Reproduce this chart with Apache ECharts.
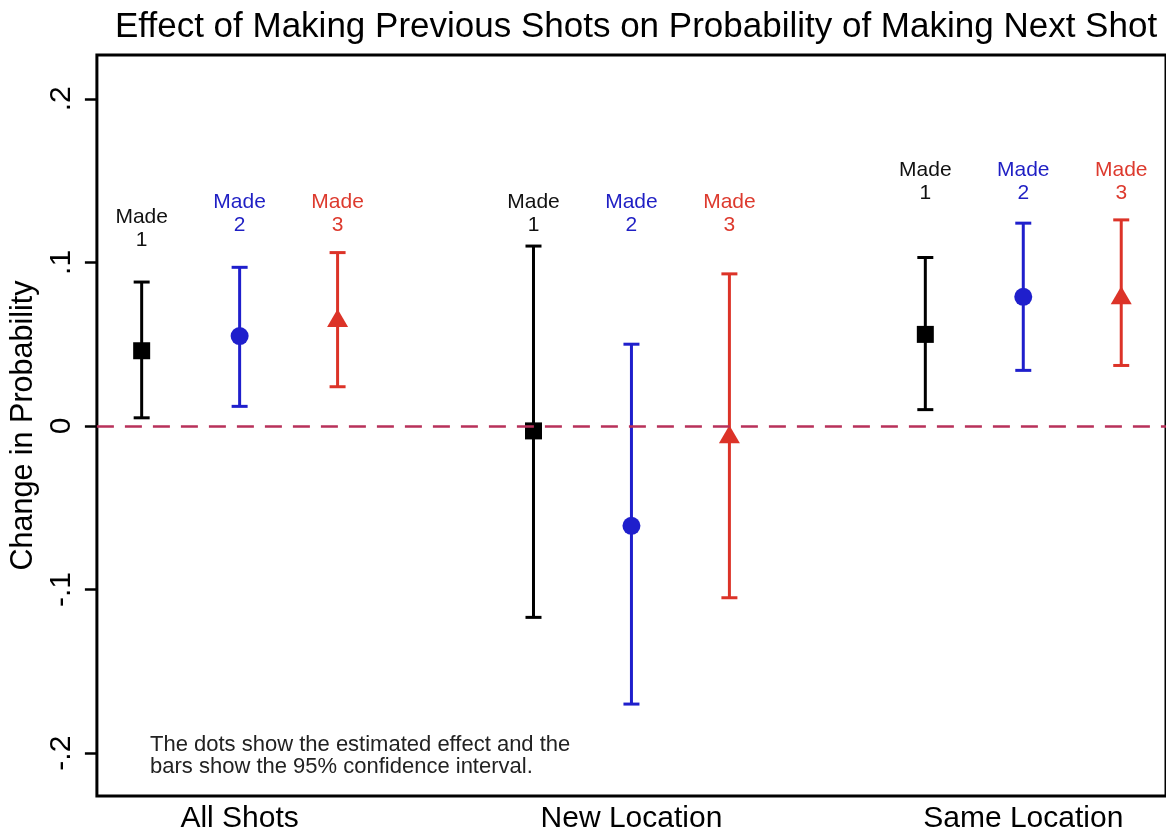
<!DOCTYPE html>
<html>
<head>
<meta charset="utf-8">
<script src="https://cdn.jsdelivr.net/npm/echarts@6/dist/echarts.min.js"></script>
<style>
  html, body { margin: 0; padding: 0; background: #fff; }
  #chart { width: 1166px; height: 834px; }
</style>
</head>
<body>
<div id="chart"></div>
<script>
// ---- Data ----
const groups = ['All Shots', 'New Location', 'Same Location'];
const seriesNames = ['Made 1', 'Made 2', 'Made 3'];
const seriesLabels = ['Made\n1', 'Made\n2', 'Made\n3'];

const made1Est = [0.046, -0.003, 0.056];
const made1Lo  = [0.005, -0.117, 0.010];
const made1Hi  = [0.088,  0.110, 0.103];

const made2Est = [0.055, -0.061, 0.079];
const made2Lo  = [0.012, -0.170, 0.034];
const made2Hi  = [0.097,  0.050, 0.124];

const made3Est = [0.066, -0.005, 0.080];
const made3Lo  = [0.024, -0.105, 0.037];
const made3Hi  = [0.106,  0.093, 0.126];

// annotation anchor heights (data units) for the "Made N" labels
const made1LabelY = [0.1205, 0.1296, 0.1494];
const made2LabelY = [0.1296, 0.1296, 0.1494];
const made3LabelY = [0.1296, 0.1296, 0.1494];

const yTicks = [-0.2, -0.1, 0, 0.1, 0.2];
const yTickLabels = ['-.2', '-.1', '0', '.1', '.2'];

const noteText = 'The dots show the estimated effect and the\nbars show the 95% confidence interval.';
const titleText = 'Effect of Making Previous Shots on Probability of Making Next Shot';

// ---- Build ----
const FONT = 'Liberation Sans, Arial, Helvetica, sans-serif';
const colors = ['#000000', '#1f1fcc', '#dc3328'];
const labelColors = ['#111111', '#1f1fc4', '#dd3a2e'];
const symbols = ['rect', 'circle', 'triangle'];
const symbolSizes = [17, 18, [21, 18]];
const ests = [made1Est, made2Est, made3Est];
const los = [made1Lo, made2Lo, made3Lo];
const his = [made1Hi, made2Hi, made3Hi];
const labYs = [made1LabelY, made2LabelY, made3LabelY];
const GROUP_STEP = 4;
const xOf = (g, k) => g * GROUP_STEP + k;

const series = [];
seriesNames.forEach((name, k) => {
  const col = colors[k];
  series.push({
    name: name + ' CI',
    type: 'custom',
    z: 3,
    data: groups.map((_, g) => [xOf(g, k), los[k][g], his[k][g]]),
    renderItem: function (params, api) {
      const x = api.value(0);
      const pLo = api.coord([x, api.value(1)]);
      const pHi = api.coord([x, api.value(2)]);
      const hw = 8;
      const st = { stroke: col, lineWidth: 3 };
      return {
        type: 'group',
        children: [
          { type: 'line', shape: { x1: pLo[0], y1: pLo[1], x2: pHi[0], y2: pHi[1] }, style: st },
          { type: 'line', shape: { x1: pLo[0] - hw, y1: pLo[1], x2: pLo[0] + hw, y2: pLo[1] }, style: st },
          { type: 'line', shape: { x1: pHi[0] - hw, y1: pHi[1], x2: pHi[0] + hw, y2: pHi[1] }, style: st }
        ]
      };
    }
  });
  series.push({
    name: name,
    type: 'scatter',
    z: 4,
    symbol: symbols[k],
    symbolSize: symbolSizes[k],
    itemStyle: { color: col, opacity: 1 },
    data: groups.map((_, g) => [xOf(g, k), ests[k][g]])
  });
  series.push({
    name: name + ' label',
    type: 'scatter',
    z: 5,
    symbolSize: 0,
    silent: true,
    itemStyle: { color: labelColors[k], opacity: 1 },
    label: {
      show: true,
      position: 'inside',
      formatter: seriesLabels[k],
      fontFamily: FONT,
      fontSize: 21,
      lineHeight: 23,
      color: labelColors[k],
      opacity: 1,
      textBorderWidth: 0
    },
    data: groups.map((_, g) => [xOf(g, k), labYs[k][g]])
  });
});

// zero reference dashed line
series.push({
  name: 'zero',
  type: 'line',
  data: [],
  z: 2,
  markLine: {
    silent: true,
    symbol: ['none', 'none'],
    label: { show: false },
    lineStyle: { color: '#b8315a', width: 2.5, type: [17, 11] },
    data: [{ yAxis: 0 }]
  }
});

const chart = echarts.init(document.getElementById('chart'));
chart.setOption({
  backgroundColor: '#ffffff',
  animation: false,
  title: {
    text: titleText,
    left: 110,
    top: 5,
    textStyle: { fontFamily: FONT, fontSize: 35, fontWeight: 'normal', color: '#000' }
  },
  graphic: [{
    type: 'text',
    left: 150,
    top: 734,
    style: { text: noteText, fontFamily: FONT, fontSize: 22, lineHeight: 22, fill: '#222' }
  }],
  grid: {
    left: 96, top: 55, bottom: 37, right: -5,
    show: true, borderColor: '#000', borderWidth: 3, backgroundColor: '#fff'
  },
  xAxis: {
    type: 'value',
    min: -0.457,
    max: 10.457,
    axisLine: { show: false, onZero: false },
    axisTick: { show: false },
    splitLine: { show: false },
    axisLabel: {
      customValues: groups.map((_, g) => xOf(g, 1)),
      formatter: v => groups[Math.round((v - 1) / GROUP_STEP)],
      fontFamily: FONT, fontSize: 30, color: '#000', margin: 8
    }
  },
  yAxis: {
    type: 'value',
    min: -0.2262,
    max: 0.2268,
    name: 'Change in Probability',
    nameLocation: 'middle',
    nameGap: 57,
    nameTextStyle: { fontFamily: FONT, fontSize: 30.5, color: '#000' },
    axisLine: { show: false, onZero: false },
    splitLine: { show: false },
    axisTick: {
      show: true, customValues: yTicks, length: 12, inside: false,
      lineStyle: { color: '#000', width: 2.5 }
    },
    axisLabel: {
      customValues: yTicks,
      rotate: 90,
      formatter: v => yTickLabels[yTicks.findIndex(t => Math.abs(t - v) < 1e-9)],
      fontFamily: FONT, fontSize: 30, color: '#000', margin: 20
    }
  },
  series: series
});
</script>
</body>
</html>
